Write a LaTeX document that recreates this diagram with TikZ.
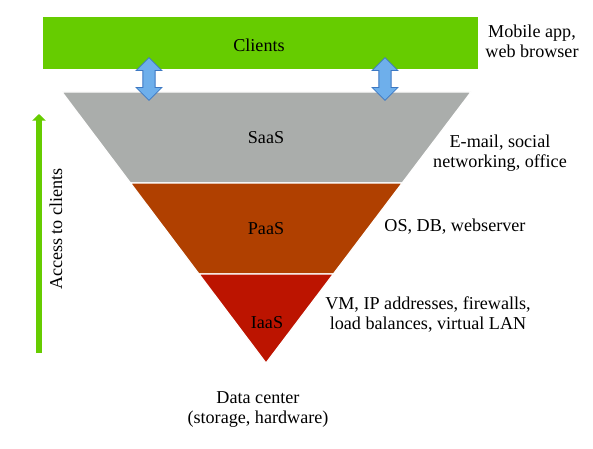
\documentclass[tikz,border=0pt]{standalone}
\usepackage{fontspec}
\setmainfont{Liberation Serif}
\usetikzlibrary{calc,arrows.meta,shapes.arrows}

\definecolor{clientgreen}{RGB}{102,204,0}
\definecolor{saasgray}{RGB}{170,173,171}
\definecolor{paasbrown}{RGB}{176,64,0}
\definecolor{iaasred}{RGB}{188,20,0}
\definecolor{arrowblue}{RGB}{110,175,235}
\definecolor{arrowedge}{RGB}{60,120,195}

\begin{document}
\begin{tikzpicture}[x=0.75pt, y=-0.75pt,
		lbl/.style={font=\fontsize{13.6}{15}\selectfont, align=center, inner sep=0pt},
		updown/.style={double arrow, rotate=90, fill=arrowblue, draw=arrowedge, line width=0.6pt,
			inner sep=4.3pt, minimum height=32pt, double arrow head extend=5pt}]
		\useasboundingbox (0, 0) rectangle (593, 449);
		% clients bar
		\fill [clientgreen] (43, 17) rectangle (478, 69);
		\node [lbl] (clients) at (259, 45) {Clients};
		\node [lbl] (mobile) at (532, 41) {Mobile app,\\web browser};
		% the three layers
		\coordinate (tl) at (62, 92);
		\coordinate (tr) at (471, 92);
		\coordinate (apex) at (266, 363);
		\coordinate (sl) at ($(tl)!0.3358!(apex)$);
		\coordinate (sr) at ($(tr)!0.3358!(apex)$);
		\coordinate (pl) at ($(tl)!0.6716!(apex)$);
		\coordinate (pr) at ($(tr)!0.6716!(apex)$);
		\filldraw [saasgray, draw=white, line width=0.9pt] (tl) -- (tr) -- (sr) -- (sl) -- cycle;
		\filldraw [paasbrown, draw=white, line width=0.9pt] (sl) -- (sr) -- (pr) -- (pl) -- cycle;
		\filldraw [iaasred, draw=white, line width=0.9pt] (pl) -- (pr) -- (apex) -- cycle;
		\node [lbl] (saas) at (266, 138) {SaaS};
		\node [lbl] (paas) at (266, 229) {PaaS};
		\node [lbl] (iaas) at (267, 323) {IaaS};
		\node [lbl] (saasnote) at (500, 153) {E-mail, social\\networking, office};
		\node [lbl] (paasnote) at (455, 227) {OS, DB, webserver};
		\node [lbl] (iaasnote) at (428, 315) {VM, IP addresses, firewalls,\\load balances, virtual LAN};
		\node [lbl] (datacenter) at (258, 410) {Data center\\(storage, hardware)};
		% arrows between clients and SaaS
		\node [updown] (linkl) at (149, 79) {};
		\node [updown] (linkr) at (385, 79) {};
		% access arrow
		\coordinate (accbot) at (39, 353);
		\coordinate (acctop) at (39, 114);
		\draw [-{Triangle[width=10pt, length=5pt]}, clientgreen, line width=4pt] (accbot) -- (acctop);
		\node [lbl, rotate=90] (access) at (56, 229) {Access to clients};
	\end{tikzpicture}
\end{document}
